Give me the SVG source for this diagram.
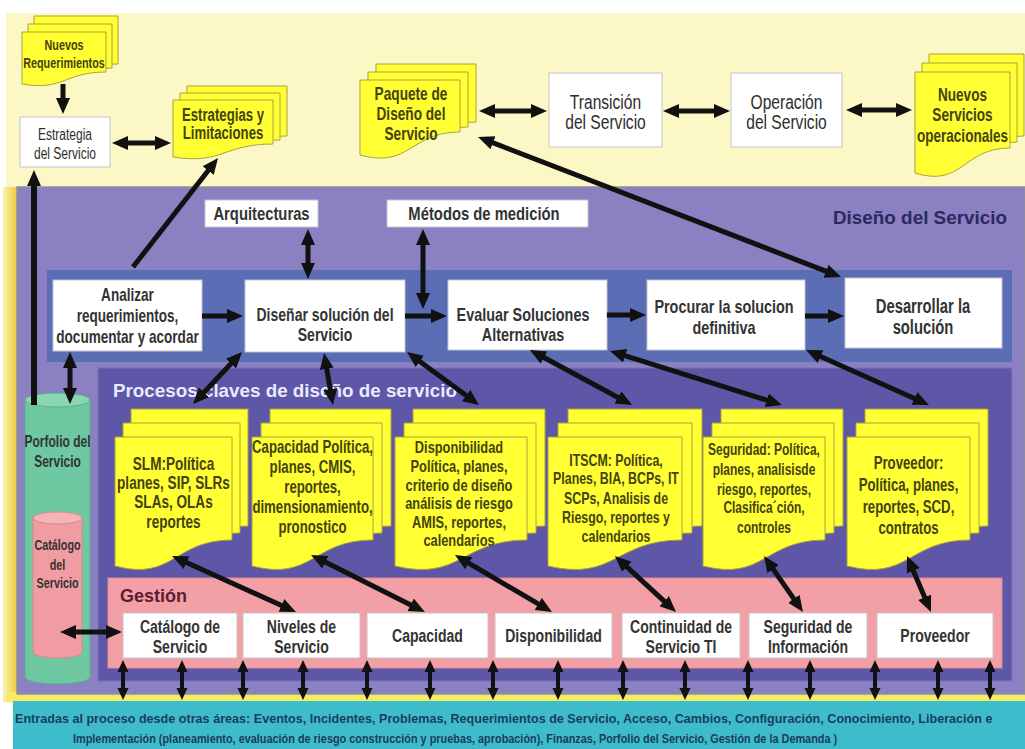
<svg xmlns="http://www.w3.org/2000/svg" width="1025" height="749" viewBox="0 0 1025 749">
  <defs>
    <style>
      .bx { fill:#ffffff; stroke:#c4c4cc; stroke-width:1; }
      .doc { fill:#ffff33; stroke:#a8a43c; stroke-width:1; }
      .t { font-family:"Liberation Sans", Arial, sans-serif; font-weight:bold; text-anchor:middle; fill:#333333; }
      .tr { font-family:"Liberation Sans", Arial, sans-serif; font-weight:normal; text-anchor:middle; fill:#2e2e2e; }
      .td { font-family:"Liberation Sans", Arial, sans-serif; font-weight:bold; text-anchor:middle; fill:#45430f; }
      .title { font-family:"Liberation Sans", Arial, sans-serif; font-weight:bold; }
      .c { fill:none; stroke:#111111; stroke-width:5; }
      .a1 { marker-end:url(#ah); }
      .a2 { marker-start:url(#ah); marker-end:url(#ah); }
      .s { fill:none; stroke:#111111; stroke-width:4; marker-start:url(#ahs); marker-end:url(#ahs); }
    </style>
    <marker id="ah" viewBox="0 0 16 16" refX="8" refY="8" markerWidth="16" markerHeight="16" markerUnits="userSpaceOnUse" orient="auto-start-reverse">
      <path d="M0,1 L16,8 L0,15 Z" fill="#111111"/>
    </marker>
    <marker id="ahs" viewBox="0 0 12 12" refX="6" refY="6" markerWidth="12" markerHeight="12" markerUnits="userSpaceOnUse" orient="auto-start-reverse">
      <path d="M0,0.5 L12,6 L0,11.5 Z" fill="#111111"/>
    </marker>
    <linearGradient id="edge" x1="0" y1="0" x2="1" y2="0">
      <stop offset="0" stop-color="#fcf2b0"/>
      <stop offset="1" stop-color="#f1cb38"/>
    </linearGradient>
  </defs>

  <!-- page background -->
  <rect x="0" y="0" width="1025" height="749" fill="#ffffff"/>
  <rect x="6" y="13" width="1019" height="690" fill="#fcf8c6"/>
  <rect x="3" y="187" width="14" height="515" fill="url(#edge)"/>
  <rect x="8" y="692" width="1017" height="10" fill="#f5ec66"/>

  <!-- containers -->
  <g id="diseno-del-servicio">
    <rect x="17" y="187" width="1008" height="507" fill="#8a80c2" stroke="#8e8e9a" stroke-width="1.5"/>
    <text class="title" x="1007" y="224" font-size="19" text-anchor="end" fill="#2c2a5c" textLength="174" lengthAdjust="spacingAndGlyphs">Diseño del Servicio</text>
  </g>
  <g id="flujo-diseno">
    <rect x="47" y="270" width="965" height="92" fill="#5b6db5"/>
  </g>
  <g id="procesos-claves">
    <rect x="98" y="368" width="914" height="313" fill="#5e56a6" stroke="#7a72bc" stroke-width="1"/>
    <text class="title" x="113" y="397" font-size="19" fill="#e8eaff" textLength="344" lengthAdjust="spacingAndGlyphs">Procesos claves de diseño de servicio</text>
  </g>
  <g id="gestion">
    <rect x="108" y="578" width="894" height="90" fill="#f2a0a6" stroke="#e08a92" stroke-width="1"/>
    <text class="title" x="120" y="602" font-size="18" fill="#5c1e2e">Gestión</text>
  </g>
  <g id="entradas">
    <rect x="13" y="701" width="1012" height="48" fill="#3fbccb"/>
    <g transform="translate(15 0) scale(0.85 1)">
      <text class="title" x="0" y="723" font-size="13.5" fill="#1b3d5e" textLength="1150" lengthAdjust="spacingAndGlyphs">Entradas al proceso desde otras áreas: Eventos, Incidentes, Problemas, Requerimientos de Servicio, Acceso, Cambios, Configuración, Conocimiento, Liberación e</text>
    </g>
    <g transform="translate(73 0) scale(0.85 1)">
      <text class="title" x="0" y="743" font-size="13.5" fill="#1b3d5e" textLength="899" lengthAdjust="spacingAndGlyphs">Implementación (planeamiento, evaluación de riesgo construcción y pruebas, aprobación), Finanzas, Porfolio del Servicio, Gestión de la Demanda )</text>
    </g>
  </g>

  <!-- service portfolio cylinders -->
  <g id="porfolio">
    <path d="M25,400 V677 A32.5,7 0 0 0 90,677 V400 Z" fill="#6ec8a1" stroke="#5aae8a" stroke-width="1"/>
    <ellipse cx="57.5" cy="400" rx="32.5" ry="7" fill="#8ad6b3" stroke="#5aae8a" stroke-width="1"/>
    <text class="t" transform="translate(57.5 0) scale(0.75 1)" font-size="16" fill="#1f5236"><tspan x="0" y="447">Porfolio del</tspan><tspan x="0" y="467">Servicio</tspan></text>
  </g>
  <g id="catalogo">
    <path d="M33,518 V652 A24.5,6 0 0 0 82,652 V518 Z" fill="#f09ca2" stroke="#dc8890" stroke-width="1"/>
    <ellipse cx="57.5" cy="518" rx="24.5" ry="6" fill="#f6b4b8" stroke="#dc8890" stroke-width="1"/>
    <text class="t" transform="translate(57.5 0) scale(0.75 1)" font-size="14.4" fill="#5b2330"><tspan x="0" y="550">Catálogo</tspan><tspan x="0" y="570">del</tspan><tspan x="0" y="588">Servicio</tspan></text>
  </g>

  <!-- top row -->
  <g id="nuevos-requerimientos">
    <path class="doc" d="M34,16H118V64C76,64 76,83.2 34,76Z"/>
    <path class="doc" d="M28,24H112V68C70,68 70,87.2 28,80Z"/>
    <path class="doc" d="M22,32H106V72C64,72 64,91.2 22,84Z"/>
    <text class="td" transform="translate(64 0) scale(0.75 1)" font-size="14.4"><tspan x="0" y="50">Nuevos</tspan><tspan x="0" y="68">Requerimientos</tspan></text>
  </g>
  <g id="estrategia-servicio">
    <rect class="bx" x="20" y="117" width="90" height="50"/>
    <text class="tr" transform="translate(65 0) scale(0.75 1)" font-size="16"><tspan x="0" y="140">Estrategia</tspan><tspan x="0" y="159">del Servicio</tspan></text>
  </g>
  <g id="estrategias-limitaciones">
    <path class="doc" d="M187,86H287V136C237,136 237,156.8 187,149Z"/>
    <path class="doc" d="M180,93H280V140C230,140 230,160.8 180,153Z"/>
    <path class="doc" d="M173,100H273V144C223,144 223,164.8 173,157Z"/>
    <text class="td" transform="translate(223 0) scale(0.75 1)" font-size="17.6"><tspan x="0" y="121">Estrategias y</tspan><tspan x="0" y="139">Limitaciones</tspan></text>
  </g>
  <g id="paquete-diseno">
    <path class="doc" d="M376,64H476V122C426,122 426,158.8 376,145Z"/>
    <path class="doc" d="M368,72H468V127C418,127 418,163.8 368,150Z"/>
    <path class="doc" d="M360,80H460V132C410,132 410,168.8 360,155Z"/>
    <text class="td" transform="translate(411 0) scale(0.78 1)" font-size="17.5"><tspan x="0" y="100">Paquete de</tspan><tspan x="0" y="120">Diseño del</tspan><tspan x="0" y="140">Servicio</tspan></text>
  </g>
  <g id="transicion">
    <rect class="bx" x="549" y="73" width="113" height="74"/>
    <text class="tr" transform="translate(605.5 0) scale(0.8 1)" font-size="19.5"><tspan x="0" y="109">Transición</tspan><tspan x="0" y="129">del Servicio</tspan></text>
  </g>
  <g id="operacion">
    <rect class="bx" x="731" y="73" width="111" height="74"/>
    <text class="tr" transform="translate(786.5 0) scale(0.8 1)" font-size="19.5"><tspan x="0" y="109">Operación</tspan><tspan x="0" y="129">del Servicio</tspan></text>
  </g>
  <g id="nuevos-servicios">
    <path class="doc" d="M929,54H1024V136C976.5,136 976.5,176 929,161Z"/>
    <path class="doc" d="M922,63H1017V142C969.5,142 969.5,182 922,167Z"/>
    <path class="doc" d="M915,72H1010V148C962.5,148 962.5,188 915,173Z"/>
    <text class="td" transform="translate(962.5 0) scale(0.75 1)" font-size="18.1"><tspan x="0" y="101">Nuevos</tspan><tspan x="0" y="121">Servicios</tspan><tspan x="0" y="142">operacionales</tspan></text>
  </g>

  <!-- design inputs -->
  <g id="arquitecturas">
    <rect class="bx" x="205" y="200" width="113" height="27"/>
    <text class="t" transform="translate(261.5 0) scale(0.8 1)" font-size="18.5"><tspan x="0" y="220">Arquitecturas</tspan></text>
  </g>
  <g id="metodos-medicion">
    <rect class="bx" x="387" y="200" width="201" height="27"/>
    <text class="t" transform="translate(484 0) scale(0.8 1)" font-size="18.5"><tspan x="0" y="220">Métodos de medición</tspan></text>
  </g>

  <!-- design flow -->
  <g id="analizar">
    <rect class="bx" x="53" y="280" width="149" height="71"/>
    <text class="t" transform="translate(127.5 0) scale(0.75 1)" font-size="18.1"><tspan x="0" y="301">Analizar</tspan><tspan x="0" y="322">requerimientos,</tspan><tspan x="0" y="343">documentar y acordar</tspan></text>
  </g>
  <g id="disenar">
    <rect class="bx" x="245" y="280" width="160" height="72"/>
    <text class="t" transform="translate(325 0) scale(0.75 1)" font-size="18.7"><tspan x="0" y="321">Diseñar solución del</tspan><tspan x="0" y="341">Servicio</tspan></text>
  </g>
  <g id="evaluar">
    <rect class="bx" x="448" y="280" width="159" height="70"/>
    <text class="t" transform="translate(523 0) scale(0.75 1)" font-size="19.2"><tspan x="0" y="321">Evaluar Soluciones</tspan><tspan x="0" y="341">Alternativas</tspan></text>
  </g>
  <g id="procurar">
    <rect class="bx" x="647" y="280" width="158" height="70"/>
    <text class="t" transform="translate(724 0) scale(0.75 1)" font-size="19.2"><tspan x="0" y="313">Procurar la solucion</tspan><tspan x="0" y="334">definitiva</tspan></text>
  </g>
  <g id="desarrollar">
    <rect class="bx" x="845" y="278" width="157" height="70"/>
    <text class="t" transform="translate(923 0) scale(0.75 1)" font-size="19.7"><tspan x="0" y="313">Desarrollar la</tspan><tspan x="0" y="334">solución</tspan></text>
  </g>

  <!-- key processes -->
  <g id="slm">
    <path class="doc" d="M131,409H248V526C189.5,526 189.5,567.6 131,552Z"/>
    <path class="doc" d="M123,423H240V533C181.5,533 181.5,574.6 123,559Z"/>
    <path class="doc" d="M115,437H232V540C173.5,540 173.5,581.6 115,566Z"/>
    <text class="td" transform="translate(173.5 0) scale(0.75 1)" font-size="18.1"><tspan x="0" y="470">SLM:Política</tspan><tspan x="0" y="489">planes, SIP, SLRs</tspan><tspan x="0" y="508">SLAs, OLAs</tspan><tspan x="0" y="528">reportes</tspan></text>
  </g>
  <g id="capacidad-doc">
    <path class="doc" d="M270,409H391V526C330.5,526 330.5,567.6 270,552Z"/>
    <path class="doc" d="M261,423H382V533C321.5,533 321.5,574.6 261,559Z"/>
    <path class="doc" d="M252,437H373V540C312.5,540 312.5,581.6 252,566Z"/>
    <text class="td" transform="translate(312.5 0) scale(0.75 1)" font-size="17.6"><tspan x="0" y="453">Capacidad Política,</tspan><tspan x="0" y="473">planes, CMIS,</tspan><tspan x="0" y="493">reportes,</tspan><tspan x="0" y="513">dimensionamiento,</tspan><tspan x="0" y="533">pronostico</tspan></text>
  </g>
  <g id="disponibilidad-doc">
    <path class="doc" d="M413,409H545V526C479,526 479,567.6 413,552Z"/>
    <path class="doc" d="M404,423H536V533C470,533 470,574.6 404,559Z"/>
    <path class="doc" d="M395,437H527V540C461,540 461,581.6 395,566Z"/>
    <text class="td" transform="translate(459 0) scale(0.75 1)" font-size="17.1"><tspan x="0" y="453">Disponibilidad</tspan><tspan x="0" y="472">Política, planes,</tspan><tspan x="0" y="491">criterio de diseño</tspan><tspan x="0" y="509">análisis de riesgo</tspan><tspan x="0" y="528">AMIS, reportes,</tspan><tspan x="0" y="546">calendarios</tspan></text>
  </g>
  <g id="itscm">
    <path class="doc" d="M568,409H702V526C635,526 635,567.6 568,552Z"/>
    <path class="doc" d="M558,423H692V533C625,533 625,574.6 558,559Z"/>
    <path class="doc" d="M548,437H682V540C615,540 615,581.6 548,566Z"/>
    <text class="td" transform="translate(616 0) scale(0.75 1)" font-size="16.5"><tspan x="0" y="466">ITSCM: Política,</tspan><tspan x="0" y="484">Planes, BIA, BCPs, IT</tspan><tspan x="0" y="504">SCPs, Analisis de</tspan><tspan x="0" y="523">Riesgo, reportes y</tspan><tspan x="0" y="542">calendarios</tspan></text>
  </g>
  <g id="seguridad-doc">
    <path class="doc" d="M721,409H843V526C782,526 782,567.6 721,552Z"/>
    <path class="doc" d="M712,423H834V533C773,533 773,574.6 712,559Z"/>
    <path class="doc" d="M703,437H825V540C764,540 764,581.6 703,566Z"/>
    <text class="td" transform="translate(764 0) scale(0.75 1)" font-size="16"><tspan x="0" y="455">Seguridad: Política,</tspan><tspan x="0" y="475">planes, analisisde</tspan><tspan x="0" y="495">riesgo, reportes,</tspan><tspan x="0" y="513">Clasifica´ción,</tspan><tspan x="0" y="533">controles</tspan></text>
  </g>
  <g id="proveedor-doc">
    <path class="doc" d="M865,409H988V526C926.5,526 926.5,567.6 865,552Z"/>
    <path class="doc" d="M856,423H979V533C917.5,533 917.5,574.6 856,559Z"/>
    <path class="doc" d="M847,437H970V540C908.5,540 908.5,581.6 847,566Z"/>
    <text class="td" transform="translate(908.5 0) scale(0.75 1)" font-size="17.6"><tspan x="0" y="469">Proveedor:</tspan><tspan x="0" y="491">Política, planes,</tspan><tspan x="0" y="513">reportes, SCD,</tspan><tspan x="0" y="534">contratos</tspan></text>
  </g>

  <!-- management areas -->
  <g id="g-catalogo">
    <rect class="bx" x="123" y="613" width="114" height="45"/>
    <text class="t" transform="translate(180 0) scale(0.75 1)" font-size="18.7"><tspan x="0" y="633">Catálogo de</tspan><tspan x="0" y="653">Servicio</tspan></text>
  </g>
  <g id="g-niveles">
    <rect class="bx" x="243" y="613" width="117" height="45"/>
    <text class="t" transform="translate(301.5 0) scale(0.75 1)" font-size="18.7"><tspan x="0" y="633">Niveles de</tspan><tspan x="0" y="653">Servicio</tspan></text>
  </g>
  <g id="g-capacidad">
    <rect class="bx" x="367" y="613" width="121" height="45"/>
    <text class="t" transform="translate(427.5 0) scale(0.75 1)" font-size="18.7"><tspan x="0" y="642">Capacidad</tspan></text>
  </g>
  <g id="g-disponibilidad">
    <rect class="bx" x="495" y="613" width="117" height="45"/>
    <text class="t" transform="translate(553.5 0) scale(0.75 1)" font-size="18.7"><tspan x="0" y="642">Disponibilidad</tspan></text>
  </g>
  <g id="g-continuidad">
    <rect class="bx" x="622" y="613" width="118" height="45"/>
    <text class="t" transform="translate(681 0) scale(0.75 1)" font-size="18.7"><tspan x="0" y="633">Continuidad de</tspan><tspan x="0" y="653">Servicio TI</tspan></text>
  </g>
  <g id="g-seguridad">
    <rect class="bx" x="749" y="613" width="118" height="45"/>
    <text class="t" transform="translate(808 0) scale(0.75 1)" font-size="18.7"><tspan x="0" y="633">Seguridad de</tspan><tspan x="0" y="653">Información</tspan></text>
  </g>
  <g id="g-proveedor">
    <rect class="bx" x="877" y="613" width="116" height="45"/>
    <text class="t" transform="translate(935 0) scale(0.75 1)" font-size="18.7"><tspan x="0" y="642">Proveedor</tspan></text>
  </g>

  <!-- connectors -->
  <g id="connectors">
    <path class="c a1" d="M63,84V106"/>
    <path class="c a2" d="M120,143H163"/>
    <path class="c a2" d="M487,111H539"/>
    <path class="c a2" d="M671,111H722"/>
    <path class="c a2" d="M854,110H904"/>
    <path class="c a1" d="M133,267L213.1,164.3"/>
    <path class="c a2" d="M485.5,139.9L833.5,274.1"/>
    <path class="c a1" d="M34,405V178" style="stroke-width:6"/>
    <path class="c a2" d="M70,360V396"/>
    <path class="c a2" d="M308,237V271"/>
    <path class="c a2" d="M423,237V301"/>
    <path class="c a1" d="M202,316H235"/>
    <path class="c a1" d="M405,316H439"/>
    <path class="c a1" d="M607,315H638"/>
    <path class="c a1" d="M805,316H836"/>
    <path class="c a2" d="M198.5,398.2L236.5,357.8"/>
    <path class="c a2" d="M325.4,360.9L331.6,397.1"/>
    <path class="c a2" d="M413.4,356.7L472.6,400.3"/>
    <path class="c a2" d="M537,353.8L625,401.2"/>
    <path class="c a2" d="M617.6,353.4L774.4,402.6"/>
    <path class="c a2" d="M813.3,353.3L921.7,401.7"/>
    <path class="c a2" d="M179.3,559.3L288.7,608.7"/>
    <path class="c a2" d="M318.2,558.6L417.8,608.4"/>
    <path class="c a2" d="M461.9,559.1L545.1,607.9"/>
    <path class="c a2" d="M620.9,561.4L670.1,606.6"/>
    <path class="c a2" d="M768.6,562.6L798.4,605.4"/>
    <path class="c a2" d="M910.2,563.4L927.8,604.6"/>
    <path class="c a2" d="M68,632H114"/>
    <path class="s" d="M123,666V694"/>
    <path class="s" d="M182,666V694"/>
    <path class="s" d="M243,666V694"/>
    <path class="s" d="M303,666V694"/>
    <path class="s" d="M367,666V694"/>
    <path class="s" d="M430,666V694"/>
    <path class="s" d="M493,666V694"/>
    <path class="s" d="M558,666V694"/>
    <path class="s" d="M623,666V694"/>
    <path class="s" d="M685,666V694"/>
    <path class="s" d="M748,666V694"/>
    <path class="s" d="M810,666V694"/>
    <path class="s" d="M875,666V694"/>
    <path class="s" d="M938,666V694"/>
    <path class="s" d="M990,666V694"/>
  </g>
</svg>
